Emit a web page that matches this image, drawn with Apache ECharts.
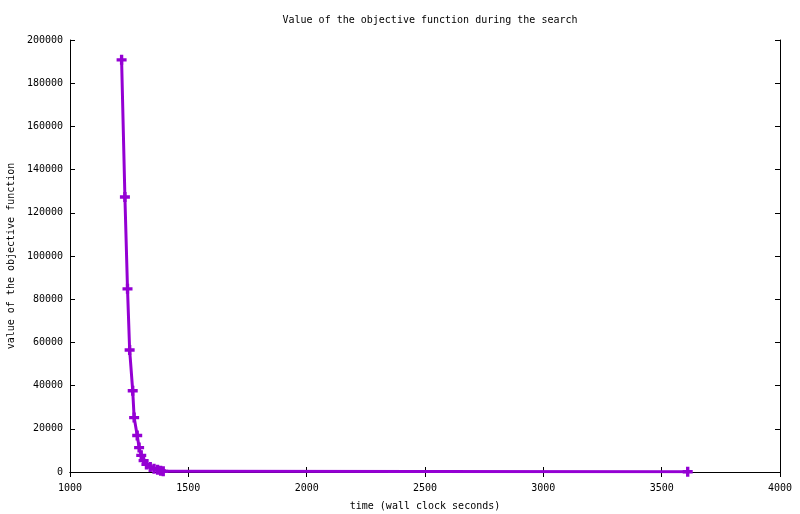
<!DOCTYPE html>
<html>
<head>
<meta charset="utf-8">
<script src="https://cdn.jsdelivr.net/npm/echarts@6/dist/echarts.min.js"></script>
<style>
  html, body { margin: 0; padding: 0; background: #fff; }
  #chart { width: 800px; height: 514px; }
</style>
</head>
<body>
<div id="chart"></div>
<script>
var myChart = echarts.init(document.getElementById('chart'), null, {renderer: 'canvas'});

// wall clock time (s) and objective value
var times = [1218, 1232, 1243, 1252, 1265, 1271, 1284, 1292, 1301, 1311, 1323, 1339, 1355, 1370, 1383, 1394, 3610];
var values = [190800, 127300, 84800, 56500, 37600, 25200, 16900, 11300, 7700, 5300, 3500, 2300, 1500, 1000, 600, 300, 100];

var points = times.map(function (t, i) { return [t, values[i]]; });

var font = 'DejaVu Sans Mono';
var plus = 'path://M3,0H6V3H9V6H6V9H3V6H0V3H3Z';

var tickStyle = {show: true, inside: true, length: 5, lineStyle: {color: '#000', width: 1}};
var lineStyle = {show: true, lineStyle: {color: '#000', width: 1}};
var plain = function (v) { return String(v); };

option = {
    animation: false,
    backgroundColor: '#fff',
    title: {
        text: 'Value of the objective function during the search',
        left: 425,
        top: 10,
        textAlign: 'center',
        textStyle: {fontFamily: font, fontSize: 10, fontWeight: 'normal', color: '#000'}
    },
    grid: {left: 70, right: 20, top: 40, bottom: 42, containLabel: false, outerBoundsMode: 'none'},
    xAxis: [{
        type: 'value',
        min: 1000,
        max: 4000,
        interval: 500,
        name: 'time (wall clock seconds)',
        nameLocation: 'middle',
        nameGap: 29,
        nameTextStyle: {fontFamily: font, fontSize: 10, color: '#000'},
        axisLine: lineStyle,
        axisTick: tickStyle,
        splitLine: {show: false},
        axisLabel: {fontFamily: font, fontSize: 10, color: '#000', margin: 11, formatter: plain}
    }, {
        type: 'value',
        position: 'top',
        min: 1000,
        max: 4000,
        interval: 500,
        axisLine: lineStyle,
        axisTick: tickStyle,
        splitLine: {show: false},
        axisLabel: {show: false}
    }],
    yAxis: [{
        type: 'value',
        min: 0,
        max: 200000,
        interval: 20000,
        name: 'value of the objective function',
        nameLocation: 'middle',
        nameGap: 54,
        nameTextStyle: {fontFamily: font, fontSize: 10, color: '#000'},
        axisLine: lineStyle,
        axisTick: tickStyle,
        splitLine: {show: false},
        axisLabel: {fontFamily: font, fontSize: 10, color: '#000', margin: 7, formatter: plain}
    }, {
        type: 'value',
        position: 'right',
        min: 0,
        max: 200000,
        interval: 20000,
        axisLine: lineStyle,
        axisTick: tickStyle,
        splitLine: {show: false},
        axisLabel: {show: false}
    }],
    series: [{
        name: 'objective',
        type: 'line',
        data: points,
        symbol: plus,
        symbolSize: 10,
        showAllSymbol: true,
        lineStyle: {color: '#9400D3', width: 3},
        itemStyle: {color: '#9400D3'},
        z: 5
    }]
};

myChart.setOption(option);
</script>
</body>
</html>
